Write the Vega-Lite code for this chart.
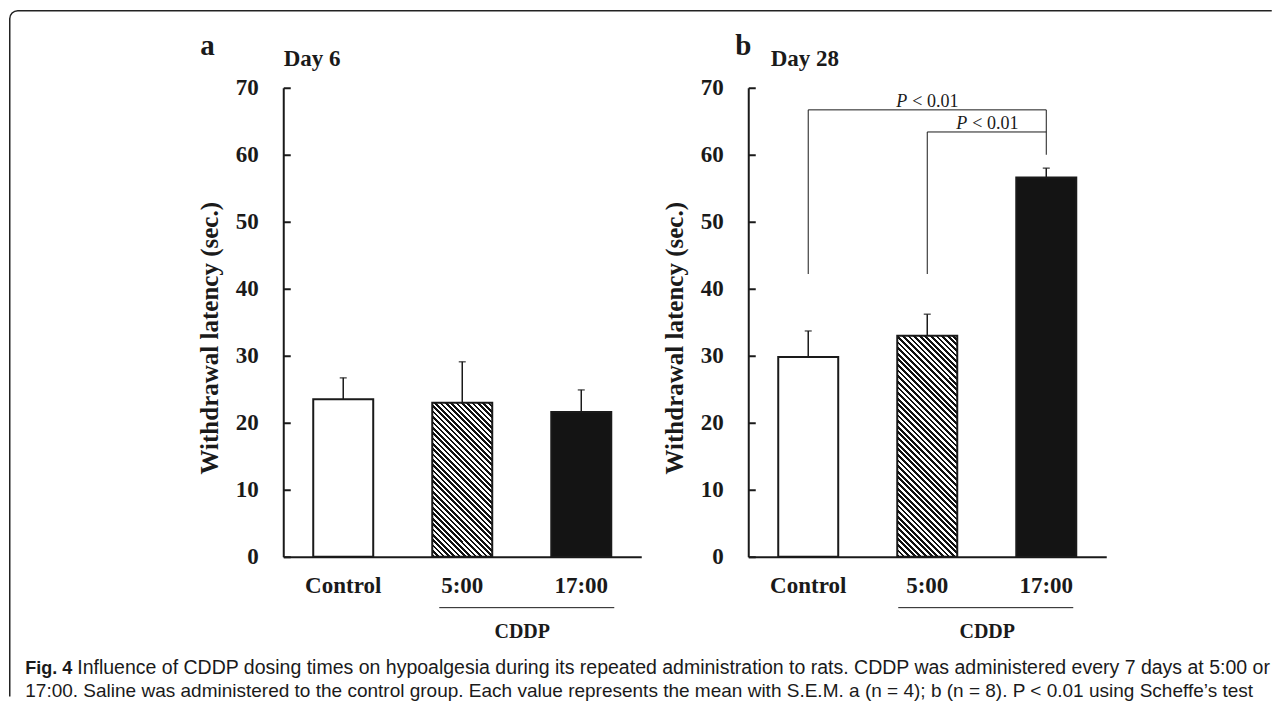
{
 "$schema": "https://vega.github.io/schema/vega-lite/v6.json",
 "autosize": {"type": "pad"},
 "padding": {"left": 8.75, "top": 9.75, "right": 0, "bottom": 0},
 "background": "white",
 "config": {"view": {"stroke": null}, "font": "Liberation Serif", "axis": {"grid": false}},
 "title": {"text": "Influence of CDDP dosing times on hypoalgesia during its repeated administration to rats. CDDP was administered every 7 days at 5:00 or", "orient": "bottom", "anchor": "start", "frame": "bounds", "dx": 68.25, "offset": -46.25, "font": "Liberation Sans", "fontSize": 19.5, "fontWeight": "normal", "color": "#1a1a1a", "limit": 2000},
 "columns": 2,
 "align": "none",
 "spacing": -1083.5,
 "concat": [
  {
   "width": 1270, "height": 694,
   "data": {"values": []},
   "mark": "point",
   "view": {"stroke": "#222222", "strokeWidth": 1.5, "cornerRadius": 8, "strokeDash": [1254, 1969.7, 690.57], "fill": null},
   "title": {"text": "Fig. 4", "subtitle": "17:00. Saline was administered to the control group. Each value represents the mean with S.E.M. a (n = 4); b (n = 8). P < 0.01 using Scheffe’s test", "orient": "bottom", "anchor": "start", "frame": "group", "dx": 15.5, "offset": -45.25, "font": "Liberation Sans", "fontSize": 18, "fontWeight": "bold", "color": "#1a1a1a", "subtitleFont": "Liberation Sans", "subtitleFontSize": 19, "subtitleFontWeight": "normal", "subtitleColor": "#1a1a1a", "subtitlePadding": 4, "limit": 2000}
  },
  {
   "spacing": 0,
   "vconcat": [
    {"width": 1, "height": 21, "data": {"values": []}, "mark": "point"},
    {
     "spacing": 21,
     "hconcat": [
      {
       "width": 358, "height": 469,
       "title": {"text": "a", "anchor": "start", "frame": "group", "dx": -83, "offset": -13.4, "fontSize": 29, "fontWeight": "bold", "font": "Liberation Serif", "color": "#1a1a1a"},
       "data": {"values": [
        {"group": "Control", "mean": 23.5, "sem": 3.2},
        {"group": "5:00", "mean": 23.0, "sem": 6.1},
        {"group": "17:00", "mean": 21.6, "sem": 3.3}
       ]},
       "resolve": {"axis": {"x": "independent"}},
       "layer": [
        {
         "mark": {"type": "errorbar", "color": "#1a1a1a", "thickness": 1.5, "size": 7, "ticks": true},
         "encoding": {
          "x": {"field": "group", "type": "nominal", "scale": {"domain": ["Control", "5:00", "17:00"], "paddingInner": 0.496, "paddingOuter": 0.252},
                "axis": {"orient": "top", "title": "Day 6", "domain": false, "ticks": false, "labels": false, "titleAnchor": "start", "titleAlign": "left", "titlePadding": 17, "titleFont": "Liberation Serif", "titleFontSize": 23, "titleFontWeight": "bold", "titleColor": "#1a1a1a", "minExtent": 0, "maxExtent": 0}},
          "y": {"field": "mean", "type": "quantitative", "title": "Withdrawal latency (sec.)", "scale": {"domain": [0, 70], "nice": false}},
          "yError": {"field": "sem"}
         }
        },
        {
         "mark": {"type": "bar", "stroke": "#1a1a1a", "strokeWidth": 2},
         "encoding": {
          "x": {"field": "group", "type": "nominal", "scale": {"domain": ["Control", "5:00", "17:00"], "paddingInner": 0.496, "paddingOuter": 0.252},
                "axis": {"title": null, "labelAngle": 0, "ticks": false, "domainColor": "#1a1a1a", "domainWidth": 2, "labelPadding": 18, "labelFont": "Liberation Serif", "labelFontSize": 23, "labelFontWeight": "bold", "labelColor": "#1a1a1a"}},
          "y": {"field": "mean", "type": "quantitative", "title": "Withdrawal latency (sec.)", "scale": {"domain": [0, 70], "nice": false},
                "axis": {"title": "Withdrawal latency (sec.)", "values": [0, 10, 20, 30, 40, 50, 60, 70], "domain": true, "ticks": true, "labels": true, "domainColor": "#1a1a1a", "domainWidth": 2, "tickColor": "#1a1a1a", "tickWidth": 2, "tickSize": -7, "labelPadding": 32, "labelFlush": false, "labelOverlap": false, "labelFont": "Liberation Serif", "labelFontSize": 23, "labelFontWeight": "bold", "labelColor": "#1a1a1a", "titleFont": "Liberation Serif", "titleFontSize": 25, "titleFontWeight": "bold", "titleColor": "#1a1a1a", "titlePadding": 13, "titleY": 250, "minExtent": 0}},
          "fill": {"condition": [
            {"test": "datum.group === 'Control'", "value": "#ffffff"},
            {"test": "datum.group === '5:00'", "value": {"gradient": "linear", "x1": 0, "y1": 1, "x2": 0.4697, "y2": -0.2065, "stops": [
{"offset":0,"color":"#111"},{"offset":0.0125,"color":"#111"},{"offset":0.0125,"color":"#fff"},{"offset":0.025,"color":"#fff"},
{"offset":0.025,"color":"#111"},{"offset":0.0375,"color":"#111"},{"offset":0.0375,"color":"#fff"},{"offset":0.05,"color":"#fff"},
{"offset":0.05,"color":"#111"},{"offset":0.0625,"color":"#111"},{"offset":0.0625,"color":"#fff"},{"offset":0.075,"color":"#fff"},
{"offset":0.075,"color":"#111"},{"offset":0.0875,"color":"#111"},{"offset":0.0875,"color":"#fff"},{"offset":0.1,"color":"#fff"},
{"offset":0.1,"color":"#111"},{"offset":0.1125,"color":"#111"},{"offset":0.1125,"color":"#fff"},{"offset":0.125,"color":"#fff"},
{"offset":0.125,"color":"#111"},{"offset":0.1375,"color":"#111"},{"offset":0.1375,"color":"#fff"},{"offset":0.15,"color":"#fff"},
{"offset":0.15,"color":"#111"},{"offset":0.1625,"color":"#111"},{"offset":0.1625,"color":"#fff"},{"offset":0.175,"color":"#fff"},
{"offset":0.175,"color":"#111"},{"offset":0.1875,"color":"#111"},{"offset":0.1875,"color":"#fff"},{"offset":0.2,"color":"#fff"},
{"offset":0.2,"color":"#111"},{"offset":0.2125,"color":"#111"},{"offset":0.2125,"color":"#fff"},{"offset":0.225,"color":"#fff"},
{"offset":0.225,"color":"#111"},{"offset":0.2375,"color":"#111"},{"offset":0.2375,"color":"#fff"},{"offset":0.25,"color":"#fff"},
{"offset":0.25,"color":"#111"},{"offset":0.2625,"color":"#111"},{"offset":0.2625,"color":"#fff"},{"offset":0.275,"color":"#fff"},
{"offset":0.275,"color":"#111"},{"offset":0.2875,"color":"#111"},{"offset":0.2875,"color":"#fff"},{"offset":0.3,"color":"#fff"},
{"offset":0.3,"color":"#111"},{"offset":0.3125,"color":"#111"},{"offset":0.3125,"color":"#fff"},{"offset":0.325,"color":"#fff"},
{"offset":0.325,"color":"#111"},{"offset":0.3375,"color":"#111"},{"offset":0.3375,"color":"#fff"},{"offset":0.35,"color":"#fff"},
{"offset":0.35,"color":"#111"},{"offset":0.3625,"color":"#111"},{"offset":0.3625,"color":"#fff"},{"offset":0.375,"color":"#fff"},
{"offset":0.375,"color":"#111"},{"offset":0.3875,"color":"#111"},{"offset":0.3875,"color":"#fff"},{"offset":0.4,"color":"#fff"},
{"offset":0.4,"color":"#111"},{"offset":0.4125,"color":"#111"},{"offset":0.4125,"color":"#fff"},{"offset":0.425,"color":"#fff"},
{"offset":0.425,"color":"#111"},{"offset":0.4375,"color":"#111"},{"offset":0.4375,"color":"#fff"},{"offset":0.45,"color":"#fff"},
{"offset":0.45,"color":"#111"},{"offset":0.4625,"color":"#111"},{"offset":0.4625,"color":"#fff"},{"offset":0.475,"color":"#fff"},
{"offset":0.475,"color":"#111"},{"offset":0.4875,"color":"#111"},{"offset":0.4875,"color":"#fff"},{"offset":0.5,"color":"#fff"},
{"offset":0.5,"color":"#111"},{"offset":0.5125,"color":"#111"},{"offset":0.5125,"color":"#fff"},{"offset":0.525,"color":"#fff"},
{"offset":0.525,"color":"#111"},{"offset":0.5375,"color":"#111"},{"offset":0.5375,"color":"#fff"},{"offset":0.55,"color":"#fff"},
{"offset":0.55,"color":"#111"},{"offset":0.5625,"color":"#111"},{"offset":0.5625,"color":"#fff"},{"offset":0.575,"color":"#fff"},
{"offset":0.575,"color":"#111"},{"offset":0.5875,"color":"#111"},{"offset":0.5875,"color":"#fff"},{"offset":0.6,"color":"#fff"},
{"offset":0.6,"color":"#111"},{"offset":0.6125,"color":"#111"},{"offset":0.6125,"color":"#fff"},{"offset":0.625,"color":"#fff"},
{"offset":0.625,"color":"#111"},{"offset":0.6375,"color":"#111"},{"offset":0.6375,"color":"#fff"},{"offset":0.65,"color":"#fff"},
{"offset":0.65,"color":"#111"},{"offset":0.6625,"color":"#111"},{"offset":0.6625,"color":"#fff"},{"offset":0.675,"color":"#fff"},
{"offset":0.675,"color":"#111"},{"offset":0.6875,"color":"#111"},{"offset":0.6875,"color":"#fff"},{"offset":0.7,"color":"#fff"},
{"offset":0.7,"color":"#111"},{"offset":0.7125,"color":"#111"},{"offset":0.7125,"color":"#fff"},{"offset":0.725,"color":"#fff"},
{"offset":0.725,"color":"#111"},{"offset":0.7375,"color":"#111"},{"offset":0.7375,"color":"#fff"},{"offset":0.75,"color":"#fff"},
{"offset":0.75,"color":"#111"},{"offset":0.7625,"color":"#111"},{"offset":0.7625,"color":"#fff"},{"offset":0.775,"color":"#fff"},
{"offset":0.775,"color":"#111"},{"offset":0.7875,"color":"#111"},{"offset":0.7875,"color":"#fff"},{"offset":0.8,"color":"#fff"},
{"offset":0.8,"color":"#111"},{"offset":0.8125,"color":"#111"},{"offset":0.8125,"color":"#fff"},{"offset":0.825,"color":"#fff"},
{"offset":0.825,"color":"#111"},{"offset":0.8375,"color":"#111"},{"offset":0.8375,"color":"#fff"},{"offset":0.85,"color":"#fff"},
{"offset":0.85,"color":"#111"},{"offset":0.8625,"color":"#111"},{"offset":0.8625,"color":"#fff"},{"offset":0.875,"color":"#fff"},
{"offset":0.875,"color":"#111"},{"offset":0.8875,"color":"#111"},{"offset":0.8875,"color":"#fff"},{"offset":0.9,"color":"#fff"},
{"offset":0.9,"color":"#111"},{"offset":0.9125,"color":"#111"},{"offset":0.9125,"color":"#fff"},{"offset":0.925,"color":"#fff"},
{"offset":0.925,"color":"#111"},{"offset":0.9375,"color":"#111"},{"offset":0.9375,"color":"#fff"},{"offset":0.95,"color":"#fff"},
{"offset":0.95,"color":"#111"},{"offset":0.9625,"color":"#111"},{"offset":0.9625,"color":"#fff"},{"offset":0.975,"color":"#fff"},
{"offset":0.975,"color":"#111"},{"offset":0.9875,"color":"#111"},{"offset":0.9875,"color":"#fff"},{"offset":1,"color":"#fff"}
            ]}}
           ], "value": "#141414"}
         }
        },
        {
         "data": {"values": [{}]},
         "mark": {"type": "rule", "stroke": "#1a1a1a", "strokeWidth": 1, "xOffset": -23, "x2Offset": 33},
         "encoding": {
          "x": {"datum": "5:00", "type": "nominal", "axis": null},
          "x2": {"datum": "17:00"},
          "y": {"datum": -7.6, "type": "quantitative", "title": "Withdrawal latency (sec.)"}
         }
        },
        {
         "data": {"values": [{}]},
         "mark": {"type": "text", "text": "CDDP", "font": "Liberation Serif", "fontSize": 20, "fontWeight": "bold", "fill": "#1a1a1a", "align": "center", "baseline": "alphabetic"},
         "encoding": {
          "x": {"datum": "5:00", "type": "nominal", "bandPosition": 1.5, "axis": null},
          "y": {"datum": -12.2, "type": "quantitative", "title": "Withdrawal latency (sec.)"}
         }
        }
       ]
      },
      {
       "width": 358, "height": 469,
       "title": {"text": "b", "anchor": "start", "frame": "group", "dx": -13, "offset": -13.4, "fontSize": 29, "fontWeight": "bold", "font": "Liberation Serif", "color": "#1a1a1a"},
       "data": {"values": [
        {"group": "Control", "mean": 29.8, "sem": 3.9},
        {"group": "5:00", "mean": 33.0, "sem": 3.2},
        {"group": "17:00", "mean": 56.6, "sem": 1.4}
       ]},
       "resolve": {"axis": {"x": "independent"}},
       "layer": [
        {
         "mark": {"type": "errorbar", "color": "#1a1a1a", "thickness": 1.5, "size": 7, "ticks": true},
         "encoding": {
          "x": {"field": "group", "type": "nominal", "scale": {"domain": ["Control", "5:00", "17:00"], "paddingInner": 0.496, "paddingOuter": 0.252},
                "axis": {"orient": "top", "title": "Day 28", "domain": false, "ticks": false, "labels": false, "titleAnchor": "start", "titleAlign": "left", "titleX": 22, "titlePadding": 17, "titleFont": "Liberation Serif", "titleFontSize": 23, "titleFontWeight": "bold", "titleColor": "#1a1a1a", "minExtent": 0, "maxExtent": 0}},
          "y": {"field": "mean", "type": "quantitative", "title": "Withdrawal latency (sec.)", "scale": {"domain": [0, 70], "nice": false}},
          "yError": {"field": "sem"}
         }
        },
        {
         "mark": {"type": "bar", "stroke": "#1a1a1a", "strokeWidth": 2},
         "encoding": {
          "x": {"field": "group", "type": "nominal", "scale": {"domain": ["Control", "5:00", "17:00"], "paddingInner": 0.496, "paddingOuter": 0.252},
                "axis": {"title": null, "labelAngle": 0, "ticks": false, "domainColor": "#1a1a1a", "domainWidth": 2, "labelPadding": 18, "labelFont": "Liberation Serif", "labelFontSize": 23, "labelFontWeight": "bold", "labelColor": "#1a1a1a"}},
          "y": {"field": "mean", "type": "quantitative", "title": "Withdrawal latency (sec.)", "scale": {"domain": [0, 70], "nice": false},
                "axis": {"title": "Withdrawal latency (sec.)", "values": [0, 10, 20, 30, 40, 50, 60, 70], "domain": true, "ticks": true, "labels": true, "domainColor": "#1a1a1a", "domainWidth": 2, "tickColor": "#1a1a1a", "tickWidth": 2, "tickSize": -7, "labelPadding": 32, "labelFlush": false, "labelOverlap": false, "labelFont": "Liberation Serif", "labelFontSize": 23, "labelFontWeight": "bold", "labelColor": "#1a1a1a", "titleFont": "Liberation Serif", "titleFontSize": 25, "titleFontWeight": "bold", "titleColor": "#1a1a1a", "titlePadding": 13, "titleY": 250, "minExtent": 0}},
          "fill": {"condition": [
            {"test": "datum.group === 'Control'", "value": "#ffffff"},
            {"test": "datum.group === '5:00'", "value": {"gradient": "linear", "x1": 0, "y1": 1, "x2": 0.3214, "y2": -0.1842, "stops": [
{"offset":0,"color":"#111"},{"offset":0.01,"color":"#111"},{"offset":0.01,"color":"#fff"},{"offset":0.02,"color":"#fff"},
{"offset":0.02,"color":"#111"},{"offset":0.03,"color":"#111"},{"offset":0.03,"color":"#fff"},{"offset":0.04,"color":"#fff"},
{"offset":0.04,"color":"#111"},{"offset":0.05,"color":"#111"},{"offset":0.05,"color":"#fff"},{"offset":0.06,"color":"#fff"},
{"offset":0.06,"color":"#111"},{"offset":0.07,"color":"#111"},{"offset":0.07,"color":"#fff"},{"offset":0.08,"color":"#fff"},
{"offset":0.08,"color":"#111"},{"offset":0.09,"color":"#111"},{"offset":0.09,"color":"#fff"},{"offset":0.1,"color":"#fff"},
{"offset":0.1,"color":"#111"},{"offset":0.11,"color":"#111"},{"offset":0.11,"color":"#fff"},{"offset":0.12,"color":"#fff"},
{"offset":0.12,"color":"#111"},{"offset":0.13,"color":"#111"},{"offset":0.13,"color":"#fff"},{"offset":0.14,"color":"#fff"},
{"offset":0.14,"color":"#111"},{"offset":0.15,"color":"#111"},{"offset":0.15,"color":"#fff"},{"offset":0.16,"color":"#fff"},
{"offset":0.16,"color":"#111"},{"offset":0.17,"color":"#111"},{"offset":0.17,"color":"#fff"},{"offset":0.18,"color":"#fff"},
{"offset":0.18,"color":"#111"},{"offset":0.19,"color":"#111"},{"offset":0.19,"color":"#fff"},{"offset":0.2,"color":"#fff"},
{"offset":0.2,"color":"#111"},{"offset":0.21,"color":"#111"},{"offset":0.21,"color":"#fff"},{"offset":0.22,"color":"#fff"},
{"offset":0.22,"color":"#111"},{"offset":0.23,"color":"#111"},{"offset":0.23,"color":"#fff"},{"offset":0.24,"color":"#fff"},
{"offset":0.24,"color":"#111"},{"offset":0.25,"color":"#111"},{"offset":0.25,"color":"#fff"},{"offset":0.26,"color":"#fff"},
{"offset":0.26,"color":"#111"},{"offset":0.27,"color":"#111"},{"offset":0.27,"color":"#fff"},{"offset":0.28,"color":"#fff"},
{"offset":0.28,"color":"#111"},{"offset":0.29,"color":"#111"},{"offset":0.29,"color":"#fff"},{"offset":0.3,"color":"#fff"},
{"offset":0.3,"color":"#111"},{"offset":0.31,"color":"#111"},{"offset":0.31,"color":"#fff"},{"offset":0.32,"color":"#fff"},
{"offset":0.32,"color":"#111"},{"offset":0.33,"color":"#111"},{"offset":0.33,"color":"#fff"},{"offset":0.34,"color":"#fff"},
{"offset":0.34,"color":"#111"},{"offset":0.35,"color":"#111"},{"offset":0.35,"color":"#fff"},{"offset":0.36,"color":"#fff"},
{"offset":0.36,"color":"#111"},{"offset":0.37,"color":"#111"},{"offset":0.37,"color":"#fff"},{"offset":0.38,"color":"#fff"},
{"offset":0.38,"color":"#111"},{"offset":0.39,"color":"#111"},{"offset":0.39,"color":"#fff"},{"offset":0.4,"color":"#fff"},
{"offset":0.4,"color":"#111"},{"offset":0.41,"color":"#111"},{"offset":0.41,"color":"#fff"},{"offset":0.42,"color":"#fff"},
{"offset":0.42,"color":"#111"},{"offset":0.43,"color":"#111"},{"offset":0.43,"color":"#fff"},{"offset":0.44,"color":"#fff"},
{"offset":0.44,"color":"#111"},{"offset":0.45,"color":"#111"},{"offset":0.45,"color":"#fff"},{"offset":0.46,"color":"#fff"},
{"offset":0.46,"color":"#111"},{"offset":0.47,"color":"#111"},{"offset":0.47,"color":"#fff"},{"offset":0.48,"color":"#fff"},
{"offset":0.48,"color":"#111"},{"offset":0.49,"color":"#111"},{"offset":0.49,"color":"#fff"},{"offset":0.5,"color":"#fff"},
{"offset":0.5,"color":"#111"},{"offset":0.51,"color":"#111"},{"offset":0.51,"color":"#fff"},{"offset":0.52,"color":"#fff"},
{"offset":0.52,"color":"#111"},{"offset":0.53,"color":"#111"},{"offset":0.53,"color":"#fff"},{"offset":0.54,"color":"#fff"},
{"offset":0.54,"color":"#111"},{"offset":0.55,"color":"#111"},{"offset":0.55,"color":"#fff"},{"offset":0.56,"color":"#fff"},
{"offset":0.56,"color":"#111"},{"offset":0.57,"color":"#111"},{"offset":0.57,"color":"#fff"},{"offset":0.58,"color":"#fff"},
{"offset":0.58,"color":"#111"},{"offset":0.59,"color":"#111"},{"offset":0.59,"color":"#fff"},{"offset":0.6,"color":"#fff"},
{"offset":0.6,"color":"#111"},{"offset":0.61,"color":"#111"},{"offset":0.61,"color":"#fff"},{"offset":0.62,"color":"#fff"},
{"offset":0.62,"color":"#111"},{"offset":0.63,"color":"#111"},{"offset":0.63,"color":"#fff"},{"offset":0.64,"color":"#fff"},
{"offset":0.64,"color":"#111"},{"offset":0.65,"color":"#111"},{"offset":0.65,"color":"#fff"},{"offset":0.66,"color":"#fff"},
{"offset":0.66,"color":"#111"},{"offset":0.67,"color":"#111"},{"offset":0.67,"color":"#fff"},{"offset":0.68,"color":"#fff"},
{"offset":0.68,"color":"#111"},{"offset":0.69,"color":"#111"},{"offset":0.69,"color":"#fff"},{"offset":0.7,"color":"#fff"},
{"offset":0.7,"color":"#111"},{"offset":0.71,"color":"#111"},{"offset":0.71,"color":"#fff"},{"offset":0.72,"color":"#fff"},
{"offset":0.72,"color":"#111"},{"offset":0.73,"color":"#111"},{"offset":0.73,"color":"#fff"},{"offset":0.74,"color":"#fff"},
{"offset":0.74,"color":"#111"},{"offset":0.75,"color":"#111"},{"offset":0.75,"color":"#fff"},{"offset":0.76,"color":"#fff"},
{"offset":0.76,"color":"#111"},{"offset":0.77,"color":"#111"},{"offset":0.77,"color":"#fff"},{"offset":0.78,"color":"#fff"},
{"offset":0.78,"color":"#111"},{"offset":0.79,"color":"#111"},{"offset":0.79,"color":"#fff"},{"offset":0.8,"color":"#fff"},
{"offset":0.8,"color":"#111"},{"offset":0.81,"color":"#111"},{"offset":0.81,"color":"#fff"},{"offset":0.82,"color":"#fff"},
{"offset":0.82,"color":"#111"},{"offset":0.83,"color":"#111"},{"offset":0.83,"color":"#fff"},{"offset":0.84,"color":"#fff"},
{"offset":0.84,"color":"#111"},{"offset":0.85,"color":"#111"},{"offset":0.85,"color":"#fff"},{"offset":0.86,"color":"#fff"},
{"offset":0.86,"color":"#111"},{"offset":0.87,"color":"#111"},{"offset":0.87,"color":"#fff"},{"offset":0.88,"color":"#fff"},
{"offset":0.88,"color":"#111"},{"offset":0.89,"color":"#111"},{"offset":0.89,"color":"#fff"},{"offset":0.9,"color":"#fff"},
{"offset":0.9,"color":"#111"},{"offset":0.91,"color":"#111"},{"offset":0.91,"color":"#fff"},{"offset":0.92,"color":"#fff"},
{"offset":0.92,"color":"#111"},{"offset":0.93,"color":"#111"},{"offset":0.93,"color":"#fff"},{"offset":0.94,"color":"#fff"},
{"offset":0.94,"color":"#111"},{"offset":0.95,"color":"#111"},{"offset":0.95,"color":"#fff"},{"offset":0.96,"color":"#fff"},
{"offset":0.96,"color":"#111"},{"offset":0.97,"color":"#111"},{"offset":0.97,"color":"#fff"},{"offset":0.98,"color":"#fff"},
{"offset":0.98,"color":"#111"},{"offset":0.99,"color":"#111"},{"offset":0.99,"color":"#fff"},{"offset":1,"color":"#fff"}
            ]}}
           ], "value": "#141414"}
         }
        },
        {
         "data": {"values": [{}]},
         "mark": {"type": "rule", "stroke": "#1a1a1a", "strokeWidth": 1, "xOffset": -29, "x2Offset": 27},
         "encoding": {
          "x": {"datum": "5:00", "type": "nominal", "axis": null},
          "x2": {"datum": "17:00"},
          "y": {"datum": -7.6, "type": "quantitative", "title": "Withdrawal latency (sec.)"}
         }
        },
        {
         "data": {"values": [{}]},
         "mark": {"type": "text", "text": "CDDP", "font": "Liberation Serif", "fontSize": 20, "fontWeight": "bold", "fill": "#1a1a1a", "align": "center", "baseline": "alphabetic"},
         "encoding": {
          "x": {"datum": "5:00", "type": "nominal", "bandPosition": 1.5, "axis": null},
          "y": {"datum": -12.2, "type": "quantitative", "title": "Withdrawal latency (sec.)"}
         }
        },
        {
         "data": {"values": [{}]},
         "mark": {"type": "rule", "stroke": "#1a1a1a", "strokeWidth": 1},
         "encoding": {"x": {"datum": "Control", "type": "nominal", "axis": null}, "y": {"datum": 42.2, "type": "quantitative", "title": "Withdrawal latency (sec.)"}, "y2": {"datum": 66.7}}
        },
        {
         "data": {"values": [{}]},
         "mark": {"type": "rule", "stroke": "#1a1a1a", "strokeWidth": 1},
         "encoding": {"x": {"datum": "5:00", "type": "nominal", "axis": null}, "y": {"datum": 42.2, "type": "quantitative", "title": "Withdrawal latency (sec.)"}, "y2": {"datum": 63.4}}
        },
        {
         "data": {"values": [{}]},
         "mark": {"type": "rule", "stroke": "#1a1a1a", "strokeWidth": 1},
         "encoding": {"x": {"datum": "17:00", "type": "nominal", "axis": null}, "y": {"datum": 60.0, "type": "quantitative", "title": "Withdrawal latency (sec.)"}, "y2": {"datum": 66.7}}
        },
        {
         "data": {"values": [{}]},
         "mark": {"type": "rule", "stroke": "#1a1a1a", "strokeWidth": 1},
         "encoding": {"x": {"datum": "Control", "type": "nominal", "axis": null}, "x2": {"datum": "17:00"}, "y": {"datum": 66.7, "type": "quantitative", "title": "Withdrawal latency (sec.)"}}
        },
        {
         "data": {"values": [{}]},
         "mark": {"type": "rule", "stroke": "#1a1a1a", "strokeWidth": 1},
         "encoding": {"x": {"datum": "5:00", "type": "nominal", "axis": null}, "x2": {"datum": "17:00"}, "y": {"datum": 63.4, "type": "quantitative", "title": "Withdrawal latency (sec.)"}}
        },
        {
         "data": {"values": [{}]},
         "mark": {"type": "text", "text": "P", "font": "Liberation Serif", "fontSize": 18, "fontStyle": "italic", "fill": "#1a1a1a", "align": "right", "baseline": "alphabetic", "dx": -20, "dy": -3},
         "encoding": {"x": {"datum": "5:00", "type": "nominal", "axis": null}, "y": {"datum": 66.7, "type": "quantitative", "title": "Withdrawal latency (sec.)"}}
        },
        {
         "data": {"values": [{}]},
         "mark": {"type": "text", "text": "< 0.01", "font": "Liberation Serif", "fontSize": 18, "fill": "#1a1a1a", "align": "left", "baseline": "alphabetic", "dx": -15, "dy": -3},
         "encoding": {"x": {"datum": "5:00", "type": "nominal", "axis": null}, "y": {"datum": 66.7, "type": "quantitative", "title": "Withdrawal latency (sec.)"}}
        },
        {
         "data": {"values": [{}]},
         "mark": {"type": "text", "text": "P", "font": "Liberation Serif", "fontSize": 18, "fontStyle": "italic", "fill": "#1a1a1a", "align": "right", "baseline": "alphabetic", "dx": -20, "dy": -3},
         "encoding": {"x": {"datum": "5:00", "type": "nominal", "bandPosition": 1.5, "axis": null}, "y": {"datum": 63.4, "type": "quantitative", "title": "Withdrawal latency (sec.)"}}
        },
        {
         "data": {"values": [{}]},
         "mark": {"type": "text", "text": "< 0.01", "font": "Liberation Serif", "fontSize": 18, "fill": "#1a1a1a", "align": "left", "baseline": "alphabetic", "dx": -15, "dy": -3},
         "encoding": {"x": {"datum": "5:00", "type": "nominal", "bandPosition": 1.5, "axis": null}, "y": {"datum": 63.4, "type": "quantitative", "title": "Withdrawal latency (sec.)"}}
        }
       ]
      }
     ]
    }
   ]
  }
 ]
}
